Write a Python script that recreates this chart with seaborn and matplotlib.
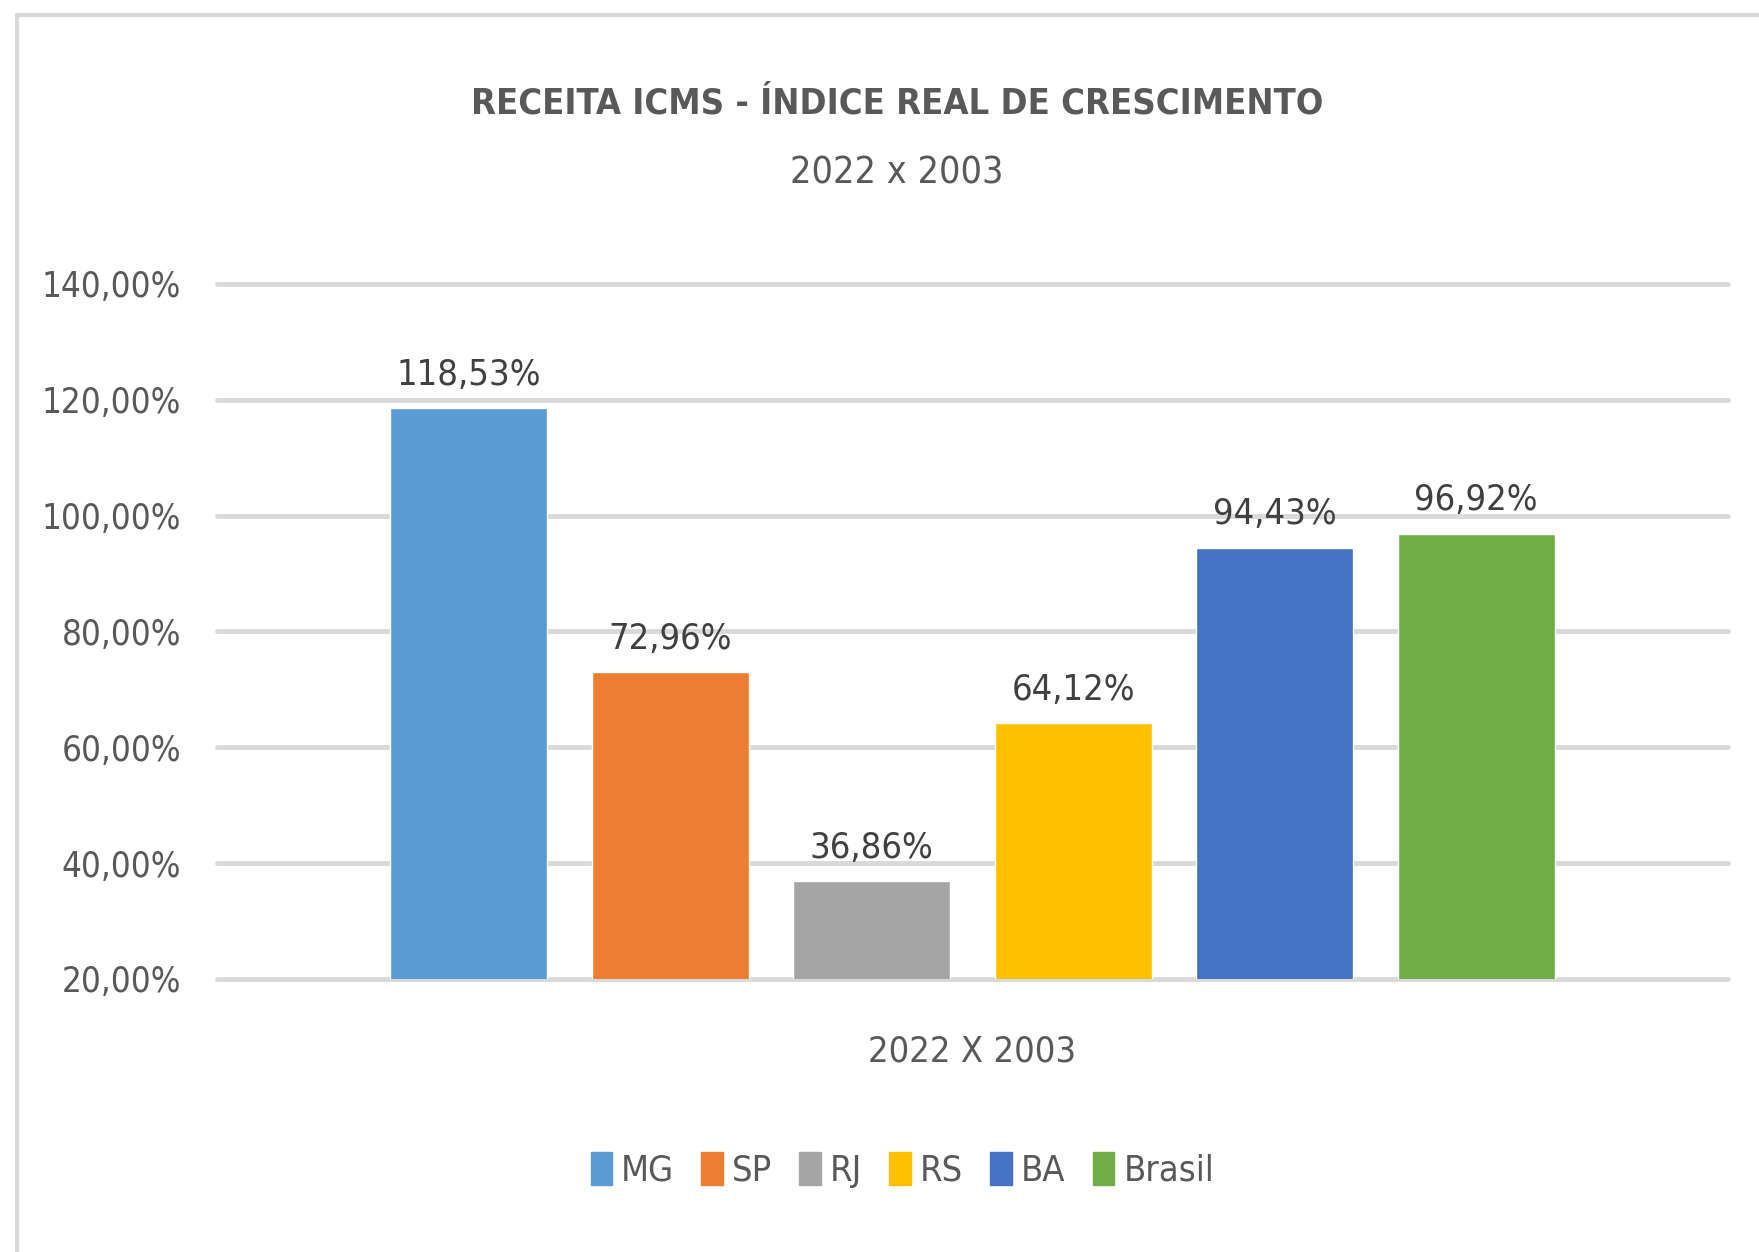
import matplotlib
matplotlib.use("Agg")
import matplotlib.pyplot as plt
from matplotlib.patches import Rectangle
from matplotlib.ticker import FuncFormatter
import seaborn as sns
import pandas as pd

# data
states = ["MG", "SP", "RJ", "RS", "BA", "Brasil"]
growth = [118.53, 72.96, 36.86, 64.12, 94.43, 96.92]
period = "2022 X 2003"
colors = ["#5B9BD5", "#ED7D31", "#A5A5A5", "#FFC000", "#4472C4", "#70AD47"]

sns.set_theme(style="white")
# condensed face is the closest thing to the narrow Calibri look
plt.rcParams["font.family"] = ["DejaVu Sans"]
plt.rcParams["font.stretch"] = "condensed"

df = pd.DataFrame({"periodo": [period] * len(states), "estado": states, "valor": growth})

fig = plt.figure(figsize=(17.59, 12.52), dpi=100)
ax = fig.add_axes([217 / 1759, 1 - 979 / 1252, (1728 - 217) / 1759, (979 - 284) / 1252])

sns.barplot(data=df, x="periodo", y="valor", hue="estado", hue_order=states,
            palette=colors, saturation=1, width=0.8, gap=0.22, ax=ax, legend=True)

ax.set_ylim(20, 140)
ax.set_yticks(range(20, 141, 20))
ax.yaxis.set_major_formatter(FuncFormatter(lambda v, p: f"{v:.2f}%".replace(".", ",")))
ax.grid(axis="y", color="#D9D9D9", linewidth=3.5)
for gl in ax.get_ygridlines():
    gl.set_clip_on(False)
ax.set_axisbelow(True)
for s in ax.spines.values():
    s.set_visible(False)
ax.tick_params(axis="y", labelsize=25, labelcolor="#595959", pad=26, length=0)
ax.tick_params(axis="x", labelsize=26, labelcolor="#595959", pad=40, length=0)
ax.set_xlabel("")
ax.set_ylabel("")

for cont in ax.containers:
    ax.bar_label(cont, labels=[f"{v:.2f}%".replace(".", ",") for v in cont.datavalues],
                 fontsize=26, color="#404040", padding=12)

ax.legend_.remove()
handles = [Rectangle((0, 0), 1, 1, color=c) for c in colors]
fig.legend(handles, states, loc="center", bbox_to_anchor=(0.513, 0.0655), ncol=6,
           frameon=False, fontsize=26, labelcolor="#595959", handlelength=0.6,
           handleheight=1.0, handletextpad=0.25, columnspacing=0.75)

fig.text(0.51, 1 - 103 / 1252, "RECEITA ICMS - ÍNDICE REAL DE CRESCIMENTO", ha="center",
         va="center", fontsize=26, fontweight="bold", color="#595959")
fig.text(0.51, 1 - 174 / 1252, "2022 x 2003", ha="center", va="center", fontsize=27,
         color="#595959")

# chart frame
fig.patches.append(Rectangle((17 / 1759, -0.1), 1.2, 1 - 15 / 1252 + 0.1,
                             transform=fig.transFigure, fill=False,
                             edgecolor="#D9D9D9", linewidth=3))

fig.savefig("out.png", dpi=100, facecolor="white")
